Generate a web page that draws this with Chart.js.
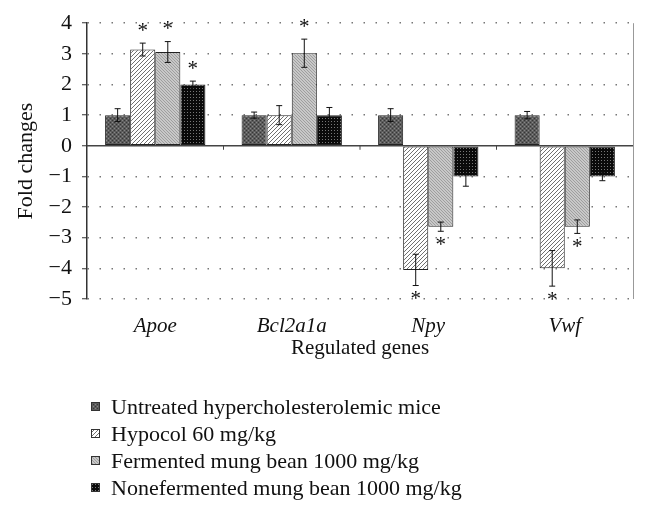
<!DOCTYPE html>
<html>
<head>
<meta charset="utf-8">
<script src="https://cdn.jsdelivr.net/npm/chart.js@4"></script>
<style>
body { margin: 0; background: #fff; }
#wrap { position: relative; width: 647px; height: 515px; }
#c { position: absolute; left: 0; top: 0; }
#legend { position: absolute; left: 91px; top: 393px; font-family: "Liberation Serif", serif; font-size: 22px; color: #111; }
.item { height: 27px; display: flex; align-items: center; }
.item canvas { margin-right: 11px; }
</style>
</head>
<body>
<div id="wrap">
  <canvas id="c" width="647" height="370"></canvas>
  <div id="legend"></div>
</div>
<script>
var genes = ['Apoe', 'Bcl2a1a', 'Npy', 'Vwf'];
var groups = ['Untreated hypercholesterolemic mice', 'Hypocol 60 mg/kg', 'Fermented mung bean 1000 mg/kg', 'Nonefermented mung bean 1000 mg/kg'];

var untreated    = [1.0, 1.0, 1.0, 1.0];
var hypocol      = [3.14, 1.0, -4.05, -4.0];
var fermented    = [3.06, 3.02, -2.64, -2.64];
var nonfermented = [2.0, 1.0, -1.0, -1.0];

var errUntreated    = [0.21, 0.1, 0.21, 0.12];
var errHypocol      = [0.21, 0.31, 0.51, 0.58];
var errFermented    = [0.34, 0.46, 0.15, 0.22];
var errNonfermented = [0.11, 0.25, 0.32, 0.14];

var sigUntreated    = [false, false, false, false];
var sigHypocol      = [true, false, true, true];
var sigFermented    = [true, true, true, true];
var sigNonfermented = [true, false, false, false];

var yMin = -5, yMax = 4;

// little tiles for the bar fills
function makePattern(kind) {
  var p = document.createElement('canvas');
  var g = p.getContext('2d');
  if (kind == 0) {
    p.width = 4; p.height = 4;
    g.fillStyle = '#5c5c5c'; g.fillRect(0, 0, 4, 4);
    g.fillStyle = '#363636'; g.fillRect(0, 0, 1, 1); g.fillRect(2, 2, 1, 1);
    g.fillStyle = '#868686'; g.fillRect(2, 0, 1, 1); g.fillRect(0, 2, 1, 1);
  } else if (kind == 1) {
    p.width = 4; p.height = 4;
    g.fillStyle = '#fff'; g.fillRect(0, 0, 4, 4);
    g.fillStyle = '#707070';
    for (var i = 0; i < 4; i++) g.fillRect(i, 3 - i, 1, 1);
  } else if (kind == 2) {
    p.width = 3; p.height = 3;
    g.fillStyle = '#c8c8c8'; g.fillRect(0, 0, 3, 3);
    g.fillStyle = '#9e9e9e';
    for (var i = 0; i < 3; i++) g.fillRect(i, i, 1, 1);
  } else {
    p.width = 3; p.height = 3;
    g.fillStyle = '#0a0a0a'; g.fillRect(0, 0, 3, 3);
    g.fillStyle = '#777'; g.fillRect(1, 1, 1, 1);
  }
  return g.createPattern(p, 'repeat');
}

var values = [untreated, hypocol, fermented, nonfermented];
var errs = [errUntreated, errHypocol, errFermented, errNonfermented];
var sigs = [sigUntreated, sigHypocol, sigFermented, sigNonfermented];
var fills = [makePattern(0), makePattern(1), makePattern(2), makePattern(3)];

var datasets = [];
for (var k = 0; k < 4; k++) {
  datasets.push({
    label: groups[k],
    data: values[k],
    backgroundColor: fills[k],
    borderColor: '#222',
    borderWidth: 1,
    borderSkipped: false,
    barPercentage: 1,
    categoryPercentage: 0.735
  });
}

var extras = {
  id: 'extras',
  afterDatasetsDraw: function(chart) {
    var ctx = chart.ctx;
    var xs = chart.scales.x, ys = chart.scales.y;
    var area = chart.chartArea;
    var y0 = ys.getPixelForValue(0);
    ctx.save();
    // zero line
    ctx.strokeStyle = '#444';
    ctx.lineWidth = 1.5;
    ctx.beginPath();
    ctx.moveTo(area.left, y0); ctx.lineTo(area.right, y0);
    ctx.stroke();
    // small ticks between genes
    ctx.lineWidth = 1;
    for (var j = 1; j < genes.length; j++) {
      var bx = (xs.getPixelForValue(j - 1) + xs.getPixelForValue(j)) / 2;
      ctx.beginPath(); ctx.moveTo(bx, y0); ctx.lineTo(bx, y0 + 4); ctx.stroke();
    }
    // right frame
    ctx.strokeStyle = '#999';
    ctx.beginPath();
    ctx.moveTo(area.right + 0.5, area.top); ctx.lineTo(area.right + 0.5, area.bottom);
    ctx.stroke();
    // error bars and stars
    ctx.strokeStyle = '#111';
    ctx.fillStyle = '#111';
    ctx.font = '21px "Liberation Serif"';
    ctx.textAlign = 'center';
    ctx.textBaseline = 'middle';
    for (var k = 0; k < 4; k++) {
      var meta = chart.getDatasetMeta(k);
      for (var j = 0; j < genes.length; j++) {
        var x = meta.data[j].x;
        var v = values[k][j], e = errs[k][j];
        var yt = ys.getPixelForValue(v + e), yb = ys.getPixelForValue(v - e);
        ctx.beginPath();
        ctx.moveTo(x, yt); ctx.lineTo(x, yb);
        ctx.moveTo(x - 3, yt); ctx.lineTo(x + 3, yt);
        ctx.moveTo(x - 3, yb); ctx.lineTo(x + 3, yb);
        ctx.stroke();
        if (sigs[k][j]) {
          if (v > 0) ctx.fillText('*', x, yt - 12);
          else ctx.fillText('*', x, yb + 14);
        }
      }
    }
    ctx.restore();
  }
};

new Chart('c', {
  type: 'bar',
  data: { labels: genes, datasets: datasets },
  options: {
    responsive: false,
    animation: false,
    devicePixelRatio: 1,
    layout: { padding: { top: 21, right: 14, left: 0, bottom: 0 } },
    plugins: { legend: { display: false }, tooltip: { enabled: false } },
    scales: {
      x: {
        grid: { display: false },
        border: { display: false },
        ticks: { padding: 7, color: '#111', font: { family: 'Liberation Serif', size: 21, style: 'italic' } },
        title: { display: true, text: 'Regulated genes', color: '#111', font: { family: 'Liberation Serif', size: 21 }, padding: { top: 4, bottom: 9 } },
        afterFit: function(s) { s.height = 71; }
      },
      y: {
        min: yMin, max: yMax,
        afterFit: function(s) { s.width = 87; },
        ticks: {
          stepSize: 1, padding: 10, color: '#111',
          font: { family: 'Liberation Serif', size: 22 },
          callback: function(v) { return v < 0 ? '\u2212' + Math.abs(v) : '' + v; }
        },
        grid: {
          color: function(c) { return c.tick && c.tick.value === 0 ? 'rgba(0,0,0,0)' : '#777'; },
          lineWidth: 1.5,
          tickColor: '#333',
          tickLength: 5,
          tickWidth: 1
        },
        border: { display: true, color: '#333', width: 1.5, dash: [1.5, 10.5] },
        title: { display: true, text: 'Fold changes', color: '#111', font: { family: 'Liberation Serif', size: 22 }, padding: { top: 13, bottom: 0 } }
      }
    }
  },
  plugins: [extras]
});

// legend built from the same groups and fills
var leg = document.getElementById('legend');
for (var k = 0; k < groups.length; k++) {
  var row = document.createElement('div');
  row.className = 'item';
  var sw = document.createElement('canvas');
  sw.width = 9; sw.height = 9;
  var sg = sw.getContext('2d');
  sg.fillStyle = fills[k]; sg.fillRect(0, 0, 9, 9);
  sg.strokeStyle = '#333'; sg.lineWidth = 1; sg.strokeRect(0.5, 0.5, 8, 8);
  row.appendChild(sw);
  var t = document.createElement('span');
  t.textContent = groups[k];
  row.appendChild(t);
  leg.appendChild(row);
}
</script>
</body>
</html>
